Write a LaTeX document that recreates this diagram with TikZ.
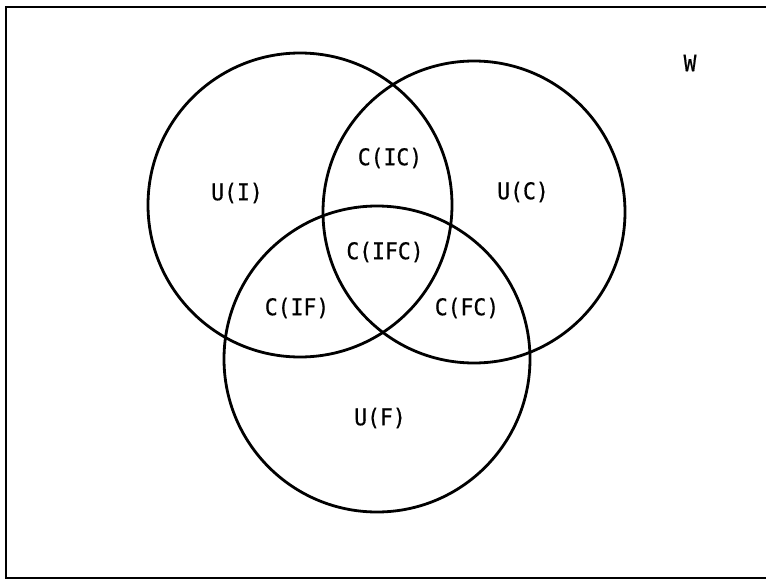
\documentclass[tikz,border=0pt]{standalone}
\usepackage{fontspec}
\newfontfamily\lblfont[FakeStretch=0.93,FakeBold=0.6]{DejaVu Sans Mono}
\begin{document}
\begin{tikzpicture}[x=1pt,y=-1pt,
  setline/.style={line width=2.8pt,black},
  frameline/.style={line width=2pt,black},
  lbl/.style={font=\lblfont\fontsize{23}{26}\selectfont,inner sep=0pt}]
\useasboundingbox (0,0) rectangle (766,581);
\begin{scope}
\clip (0,0) rectangle (766,581);
\draw[frameline] (6,7) rectangle (790,578);
\end{scope}
\draw[setline] (300,205) circle[radius=152];
\draw[setline] (474,212) circle[radius=151];
\draw[setline] (377,359) circle[radius=153];
\node[lbl] (ui) at (237,193) {U(I)};
\node[lbl] (uc) at (523,192) {U(C)};
\node[lbl] (uf) at (380,418) {U(F)};
\node[lbl] (cic) at (390,158) {C(IC)};
\node[lbl] (cifc) at (385,252) {C(IFC)};
\node[lbl] (cif) at (297,308) {C(IF)};
\node[lbl] (cfc) at (467,308) {C(FC)};
\node[lbl] (w) at (690,63) {W};
\end{tikzpicture}
\end{document}
